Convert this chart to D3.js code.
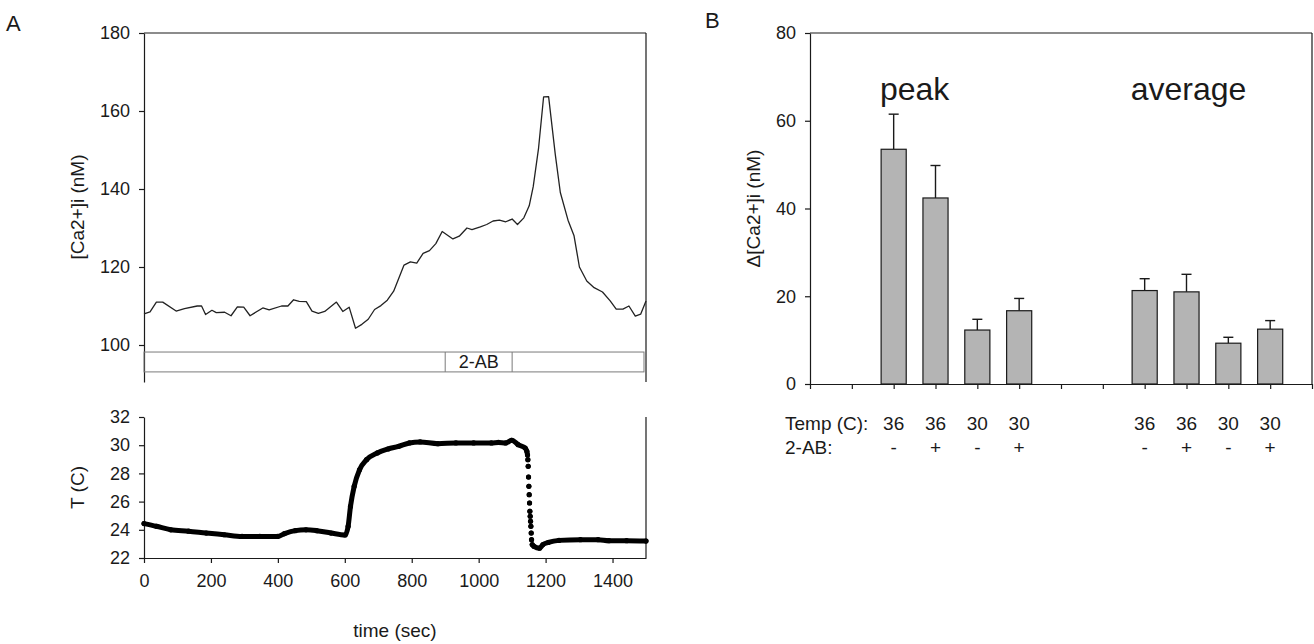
<!DOCTYPE html>
<html>
<head>
<meta charset="utf-8">
<script src="https://cdn.jsdelivr.net/npm/d3@7"></script>
<style>
  html, body { margin: 0; padding: 0; background: #fff; }
  svg { display: block; font-family: "Liberation Sans", Arial, sans-serif; }
</style>
</head>
<body>
<div id="chart"></div>
<script>
// Panel A, top: [Ca2+]i trace
const caTime = [0, 18, 37, 56, 96, 121, 159, 172, 184, 203, 216, 241, 260, 279, 298, 317, 355, 374,
  411, 430, 447, 464, 485, 502, 521, 540, 575, 594, 613, 632, 651, 670, 689, 708, 727, 746, 777,
  796, 815, 834, 853, 872, 891, 923, 942, 965, 980, 1005, 1024, 1043, 1062, 1081, 1100, 1116,
  1135, 1151, 1163, 1179, 1194, 1209, 1229, 1244, 1267, 1285, 1301, 1323, 1345, 1370, 1393,
  1411, 1431, 1449, 1468, 1484, 1500];
const caConc = [108.0, 108.5, 111.0, 111.0, 108.7, 109.3, 110.0, 110.0, 107.8, 108.9, 108.3, 108.4,
  107.5, 109.8, 109.7, 107.5, 109.5, 109.0, 110.0, 110.0, 111.6, 111.2, 111.1, 108.7, 108.1,
  108.6, 111.0, 108.6, 109.7, 104.3, 105.3, 106.6, 109.1, 110.1, 111.5, 113.8, 120.5, 121.3,
  121.0, 123.5, 124.2, 126.0, 129.1, 127.2, 127.9, 130.0, 129.6, 130.3, 130.9, 131.8, 132.0,
  131.6, 132.3, 130.9, 132.6, 135.7, 140.6, 150.5, 163.6, 163.7, 148.8, 139.1, 132.0, 128.0,
  120.0, 116.4, 114.7, 113.6, 111.3, 109.2, 109.2, 110.0, 107.4, 107.9, 111.3];
const caTicks = [100, 120, 140, 160, 180];
const drugStart = 900, drugEnd = 1100, drugLabel = '2-AB';

// Panel A, bottom: bath temperature
const tempTime = [0, 37, 80, 133, 186, 240, 293, 346, 399, 420, 452, 484, 516, 559, 601, 610, 617,
  628, 644, 665, 697, 729, 761, 793, 825, 878, 932, 985, 1038, 1059, 1081, 1099, 1118, 1139,
  1144, 1146, 1147, 1148, 1149, 1150, 1151, 1152, 1153, 1154, 1155, 1156, 1157, 1158, 1160,
  1165, 1182, 1192, 1208, 1240, 1304, 1357, 1389, 1442, 1500];
const tempC = [24.44, 24.25, 24.0, 23.9, 23.77, 23.65, 23.53, 23.53, 23.53, 23.73, 23.94, 24.0,
  23.94, 23.77, 23.63, 24.25, 25.66, 27.08, 28.26, 28.97, 29.45, 29.73, 29.92, 30.16, 30.23,
  30.11, 30.16, 30.16, 30.16, 30.2, 30.16, 30.35, 30.04, 29.8, 29.57, 29.3, 28.97, 28.5, 27.74,
  27.08, 26.49, 25.9, 25.31, 24.96, 24.6, 24.25, 23.77, 23.3, 22.95, 22.83, 22.7, 22.95, 23.1,
  23.25, 23.3, 23.3, 23.23, 23.23, 23.2];
const tempTicks = [22, 24, 26, 28, 30, 32];
const timeTicks = [0, 200, 400, 600, 800, 1000, 1200, 1400];

// Panel B: response bars
const barPos = [2, 3, 4, 5, 8, 9, 10, 11];
const barMean = [53.5, 42.4, 12.3, 16.7, 21.3, 21.0, 9.3, 12.5];
const barSem = [8.0, 7.4, 2.45, 2.8, 2.7, 4.0, 1.35, 1.95];
const barTemp = ['36', '36', '30', '30', '36', '36', '30', '30'];
const barDrug = ['-', '+', '-', '+', '-', '+', '-', '+'];
const groupNames = ['peak', 'average'];
const groupCenters = [2.5, 9.05];
const bTicks = [0, 20, 40, 60, 80];

const W = 1314, H = 644;
const ink = '#1a1a1a';
const tickFont = 18;
const svg = d3.select('#chart').append('svg').attr('width', W).attr('height', H);

function styleAxis(g) {
  g.selectAll('path, line').attr('stroke', ink).attr('stroke-width', 1.2);
  g.selectAll('text').attr('fill', ink).attr('font-size', tickFont);
}

// ---------- Panel A ----------
const xT = d3.scaleLinear().domain([0, 1500]).range([144, 646]);
const yCa = d3.scaleLinear().domain([100, 180]).range([345, 33]);
const yT = d3.scaleLinear().domain([22, 32]).range([558, 417]);

svg.append('text').attr('x', 6).attr('y', 31).attr('font-size', 22).attr('fill', ink).text('A');

const gTop = svg.append('g');
// frame: top line, right line, left line down past the stimulus bar
gTop.append('line').attr('x1', xT(0)).attr('x2', xT(1500)).attr('y1', yCa(180)).attr('y2', yCa(180))
  .attr('stroke', ink).attr('stroke-width', 1.2);
gTop.append('line').attr('x1', xT(1500)).attr('x2', xT(1500)).attr('y1', yCa(180)).attr('y2', yCa(90.5))
  .attr('stroke', ink).attr('stroke-width', 1.2);
gTop.append('g')
  .attr('transform', `translate(${xT(0)},0)`)
  .call(d3.axisLeft(yCa.copy().domain([90.5, 180]).range([yCa(90.5), yCa(180)]))
    .tickValues(caTicks).tickSize(5).tickSizeOuter(0).tickPadding(9))
  .call(styleAxis);

// stimulus bar
const barLo = 93.1, barHi = 98.2;
const stim = gTop.append('g').attr('fill', 'none').attr('stroke', '#7a7a7a').attr('stroke-width', 1);
stim.append('rect').attr('x', xT(0)).attr('y', yCa(barHi))
  .attr('width', xT(1494) - xT(0)).attr('height', yCa(barLo) - yCa(barHi));
[drugStart, drugEnd].forEach(t => stim.append('line')
  .attr('x1', xT(t)).attr('x2', xT(t)).attr('y1', yCa(barHi)).attr('y2', yCa(barLo)));
gTop.append('text').attr('x', (xT(drugStart) + xT(drugEnd)) / 2).attr('y', (yCa(barHi) + yCa(barLo)) / 2)
  .attr('dy', '0.36em').attr('text-anchor', 'middle').attr('font-size', 18).attr('fill', ink).text(drugLabel);

const caLine = d3.line().x((d, i) => xT(caTime[i])).y(d => yCa(d));
gTop.append('path').datum(caConc).attr('d', caLine)
  .attr('fill', 'none').attr('stroke', '#222').attr('stroke-width', 1.3).attr('stroke-linejoin', 'round');

gTop.append('text')
  .attr('transform', `translate(84,${(yCa(100) + yCa(180)) / 2 + 18}) rotate(-90)`)
  .attr('text-anchor', 'middle').attr('font-size', 19).attr('fill', ink).text('[Ca2+]i (nM)');

// bottom temperature panel
const bot = svg.append('g');
bot.append('g').attr('transform', `translate(0,${yT(22)})`)
  .call(d3.axisBottom(xT).tickValues(timeTicks).tickFormat(d3.format('d')).tickSize(5).tickSizeOuter(0).tickPadding(11))
  .call(styleAxis);
bot.append('g').attr('transform', `translate(${xT(0)},0)`)
  .call(d3.axisLeft(yT).tickValues(tempTicks).tickSize(5).tickSizeOuter(0).tickPadding(9))
  .call(styleAxis);
bot.append('line').attr('x1', xT(1500)).attr('x2', xT(1500)).attr('y1', yT(32)).attr('y2', yT(22))
  .attr('stroke', ink).attr('stroke-width', 1.2);

// dense trace: join neighbouring samples, leave the fast drop as separate dots
const tPts = tempTime.map((t, i) => [xT(t), yT(tempC[i])]);
const segs = [];
let cur = [tPts[0]];
for (let i = 1; i < tPts.length; i++) {
  if (Math.abs(tPts[i][1] - tPts[i - 1][1]) > 4 && Math.abs(tPts[i][0] - tPts[i - 1][0]) < 2) {
    segs.push(cur); cur = [tPts[i]];
  } else cur.push(tPts[i]);
}
segs.push(cur);
bot.selectAll('path.seg').data(segs).enter().append('path').attr('class', 'seg')
  .attr('d', d3.line().curve(d3.curveMonotoneX))
  .attr('fill', 'none').attr('stroke', '#000').attr('stroke-width', 5)
  .attr('stroke-linecap', 'round').attr('stroke-linejoin', 'round');
bot.selectAll('circle').data(tPts).enter().append('circle')
  .attr('cx', d => d[0]).attr('cy', d => d[1]).attr('r', 2.6).attr('fill', '#000');

bot.append('text')
  .attr('transform', `translate(84,${(yT(22) + yT(32)) / 2}) rotate(-90)`)
  .attr('text-anchor', 'middle').attr('font-size', 19).attr('fill', ink).text('T (C)');
bot.append('text').attr('x', (xT(0) + xT(1500)) / 2).attr('y', 637)
  .attr('text-anchor', 'middle').attr('font-size', 19).attr('fill', ink).text('time (sec)');

// ---------- Panel B ----------
const xB = d3.scaleLinear().domain([0, 12]).range([810, 1312]);
const yB = d3.scaleLinear().domain([0, 80]).range([384, 33]);

svg.append('text').attr('x', 705).attr('y', 28).attr('font-size', 22).attr('fill', ink).text('B');

const pb = svg.append('g');
pb.append('line').attr('x1', xB(0)).attr('x2', xB(12)).attr('y1', yB(80)).attr('y2', yB(80))
  .attr('stroke', ink).attr('stroke-width', 1.2);
pb.append('line').attr('x1', xB(12)).attr('x2', xB(12)).attr('y1', yB(80)).attr('y2', yB(0))
  .attr('stroke', ink).attr('stroke-width', 1.2);
pb.append('g').attr('transform', `translate(${xB(0)},0)`)
  .call(d3.axisLeft(yB).tickValues(bTicks).tickSize(5).tickSizeOuter(0).tickPadding(9))
  .call(styleAxis);
pb.append('g').attr('transform', `translate(0,${yB(0)})`)
  .call(d3.axisBottom(xB).tickValues(d3.range(0, 13)).tickFormat('').tickSize(5).tickSizeOuter(0))
  .call(styleAxis);

const bw = xB(0.6) - xB(0);
const capW = xB(0.24) - xB(0);
barPos.forEach((p, i) => {
  const cx = xB(p);
  pb.append('line').attr('x1', cx).attr('x2', cx).attr('y1', yB(barMean[i])).attr('y2', yB(barMean[i] + barSem[i]))
    .attr('stroke', ink).attr('stroke-width', 1.4);
  pb.append('line').attr('x1', cx - capW / 2).attr('x2', cx + capW / 2)
    .attr('y1', yB(barMean[i] + barSem[i])).attr('y2', yB(barMean[i] + barSem[i]))
    .attr('stroke', ink).attr('stroke-width', 1.4);
  pb.append('rect').attr('x', cx - bw / 2).attr('y', yB(barMean[i]))
    .attr('width', bw).attr('height', yB(0) - yB(barMean[i]))
    .attr('fill', '#b4b4b4').attr('stroke', ink).attr('stroke-width', 1.2);
  pb.append('text').attr('x', cx).attr('y', 430).attr('text-anchor', 'middle')
    .attr('font-size', 19).attr('fill', ink).text(barTemp[i]);
  pb.append('text').attr('x', cx).attr('y', 454).attr('text-anchor', 'middle')
    .attr('font-size', 19).attr('fill', ink).text(barDrug[i]);
});
groupNames.forEach((g, i) => pb.append('text').attr('x', xB(groupCenters[i])).attr('y', 100)
  .attr('text-anchor', 'middle').attr('font-size', 32).attr('fill', ink).text(g));

pb.append('text').attr('x', 785).attr('y', 430).attr('font-size', 19).attr('fill', ink).text('Temp (C):');
pb.append('text').attr('x', 785).attr('y', 454).attr('font-size', 19).attr('fill', ink).text('2-AB:');

pb.append('text')
  .attr('transform', `translate(760,${(yB(0) + yB(80)) / 2}) rotate(-90)`)
  .attr('text-anchor', 'middle').attr('font-size', 19).attr('fill', ink).text('Δ[Ca2+]i (nM)');
</script>
</body>
</html>
